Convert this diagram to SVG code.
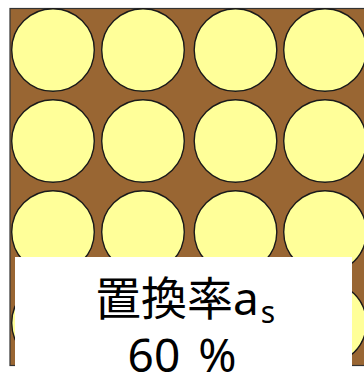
<svg xmlns="http://www.w3.org/2000/svg" width="364" height="378" viewBox="0 0 364 378">
  <style>
    .bg { fill: #996633; stroke: #333333; stroke-width: 1.2; }
    .p { fill: #FFFF99; stroke: #1a1a1a; stroke-width: 1.4; }
    .lbl { font-family: 'Noto Sans', 'Noto Sans CJK JP', sans-serif; font-size: 46px; fill: #000000; text-anchor: middle; }
  </style>
  <g id="matrix">
    <rect class="bg" x="10" y="8.5" width="362" height="357"/>
  </g>
  <g id="particles">
    <circle class="p" cx="53" cy="50" r="41.3"/>
    <circle class="p" cx="143" cy="50" r="41.3"/>
    <circle class="p" cx="235.5" cy="50" r="41.3"/>
    <circle class="p" cx="325" cy="50" r="41.3"/>
    <circle class="p" cx="53" cy="141" r="41.3"/>
    <circle class="p" cx="143" cy="141" r="41.3"/>
    <circle class="p" cx="235.5" cy="141" r="41.3"/>
    <circle class="p" cx="325" cy="141" r="41.3"/>
    <circle class="p" cx="53" cy="232" r="41.3"/>
    <circle class="p" cx="143" cy="232" r="41.3"/>
    <circle class="p" cx="235.5" cy="232" r="41.3"/>
    <circle class="p" cx="325" cy="232" r="41.3"/>
    <circle class="p" cx="53" cy="323" r="41.3"/>
    <circle class="p" cx="143" cy="323" r="41.3"/>
    <circle class="p" cx="235.5" cy="323" r="41.3"/>
    <circle class="p" cx="325" cy="323" r="41.3"/>
  </g>
  <g id="label">
    <rect x="15" y="257" width="337" height="125" fill="#ffffff"/>
    <text class="lbl" x="185" y="315">置換率a<tspan font-size="30" dx="2" dy="8">s</tspan></text>
    <text class="lbl" x="182" y="372">60 <tspan dx="6">%</tspan></text>
  </g>
</svg>
